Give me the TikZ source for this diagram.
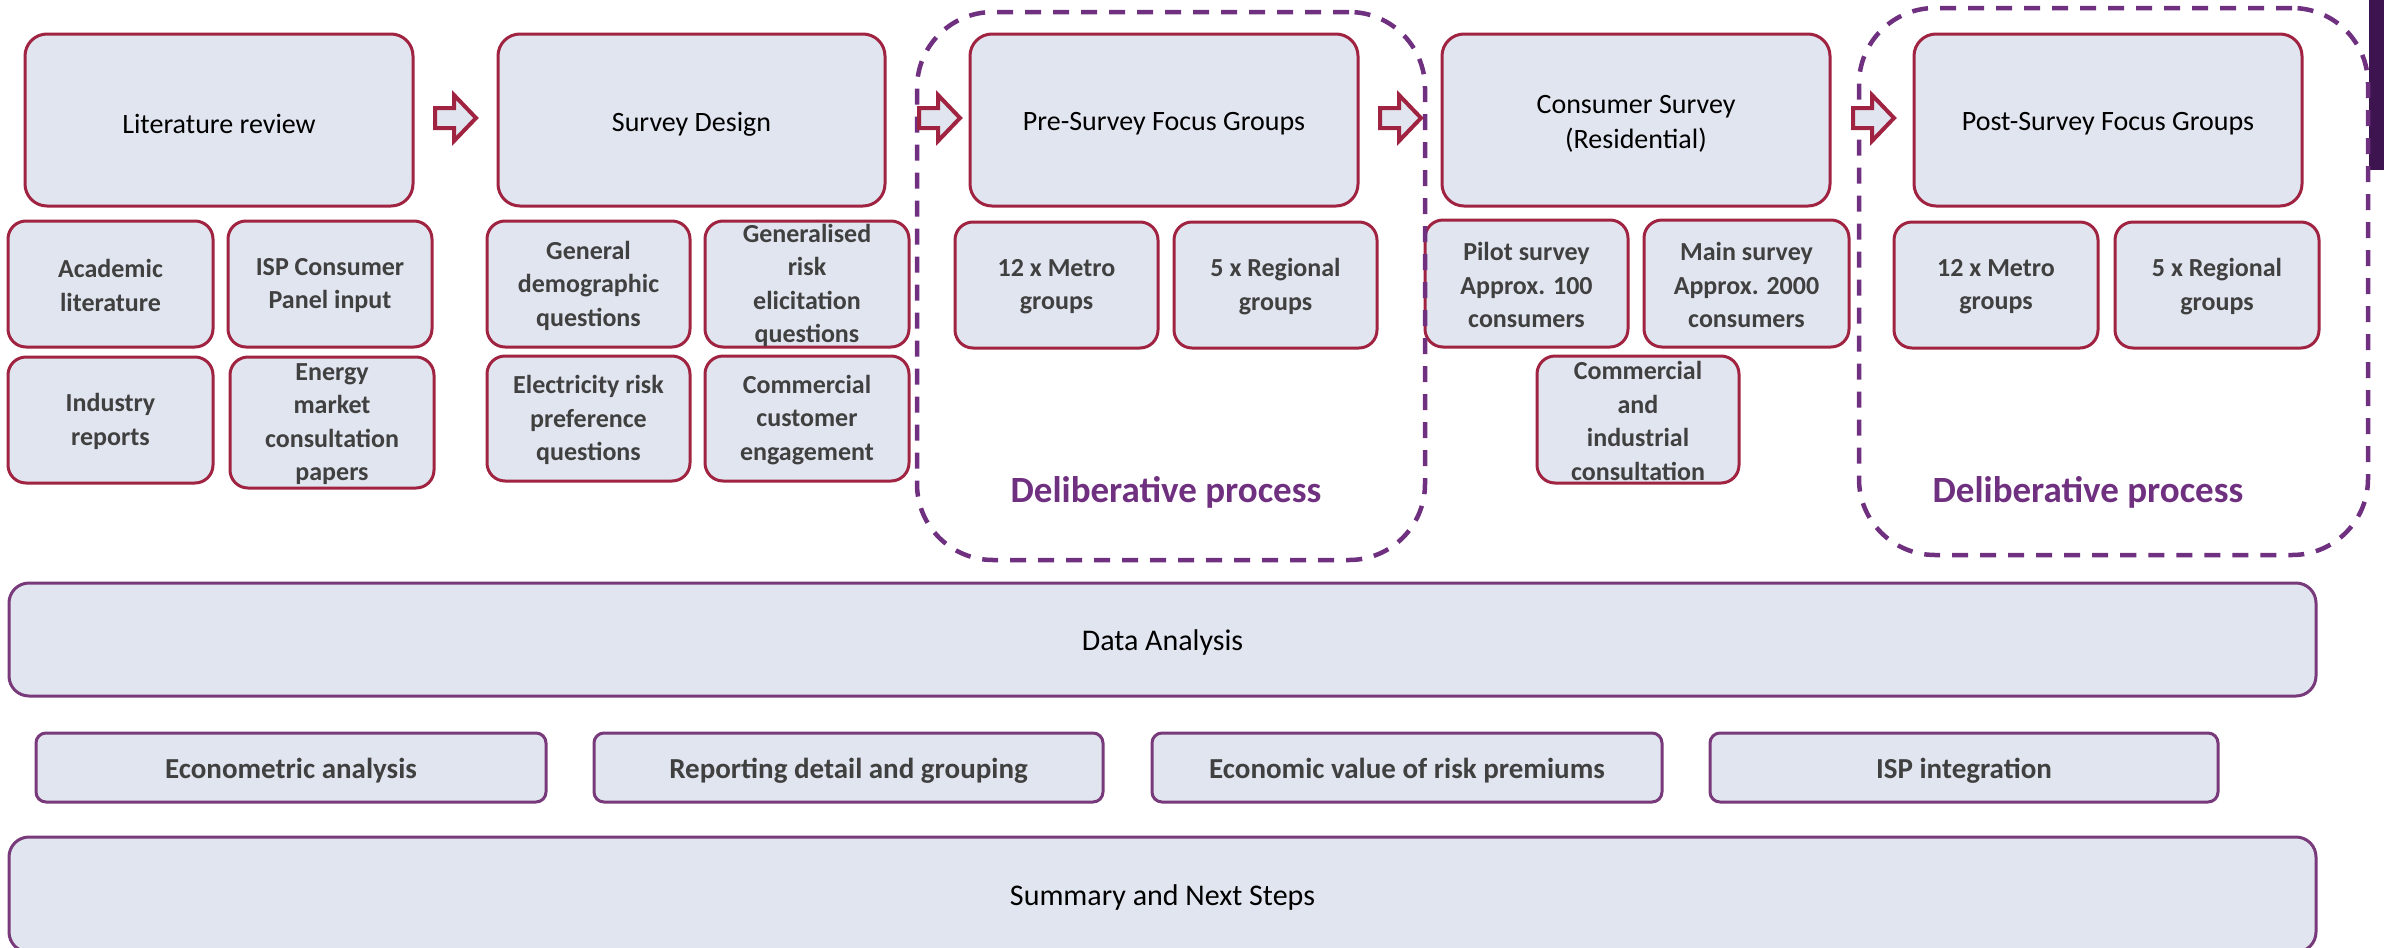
\documentclass[tikz,border=0pt]{standalone}
\usepackage{fontspec}
\setmainfont{Carlito}
\definecolor{boxfill}{RGB}{225,229,239}
\definecolor{crim}{RGB}{160,35,65}
\definecolor{purp}{RGB}{120,58,122}
\definecolor{dpurp}{RGB}{112,48,128}
\definecolor{txtgrey}{RGB}{64,64,64}
\definecolor{darkbar}{RGB}{62,20,80}
\tikzset{
 base/.style={fill=boxfill, inner sep=0pt, outer sep=0pt},
 topbox/.style={base, draw=crim, line width=1.5pt, rounded corners=11pt},
 subbox/.style={base, draw=crim, line width=1.5pt, rounded corners=9pt},
 widebox/.style={base, draw=purp, line width=1.5pt, rounded corners=10pt},
 thinbox/.style={base, draw=purp, line width=1.5pt, rounded corners=5pt},
 dashbox/.style={draw=dpurp, line width=2.25pt, dash pattern=on 8pt off 6pt, rounded corners=38pt},
 maintxt/.style={align=center, inner sep=0pt, yshift=-2pt, font=\fontsize{14}{17.5}\selectfont, text=black},
 bigtxt/.style={align=center, inner sep=0pt, yshift=-1.5pt, font=\fontsize{15}{18}\selectfont, text=black},
 subtxt/.style={align=center, inner sep=0pt, yshift=-0.75pt, font=\fontsize{13}{16.75}\selectfont\bfseries, text=txtgrey},
 rowtxt/.style={align=center, inner sep=0pt, yshift=-1.5pt, font=\fontsize{14.5}{17}\selectfont\bfseries, text=txtgrey},
 deltxt/.style={inner sep=0pt, yshift=-1pt, font=\fontsize{18.5}{22}\selectfont\bfseries, text=dpurp},
 blockarrow/.style={draw=crim, fill=boxfill, line width=2pt, line join=miter},
}
% style, name, x1, y1, x2, y2, text style, text
\newcommand\mybox[8]{%
 \node[#1, minimum width={(#5-#3)*0.5pt}, minimum height={(#6-#4)*0.5pt}] (#2) at ({(#3+#5)/2},{(#4+#6)/2}) {};
 \node[#7] (#2-t) at (#2.center) {#8};}
\newcommand\myarrow[2]{%
 \coordinate (#1) at (#2,118);
 \draw[blockarrow] (#1) ++(-20,-10) -- ++(19,0) -- ++(0,-13) -- ++(22,23) -- ++(-22,23) -- ++(0,-13) -- ++(-19,0) -- cycle;}
\begin{document}
\begin{tikzpicture}[x=0.5pt, y=-0.5pt]
\clip (0,0) rectangle (2384,948);
\fill[white] (0,0) rectangle (2384,948);
% dark bar at right edge
\fill[darkbar] (2369,0) rectangle (2384,170);
% top row
\mybox{topbox}{lit}{25}{34}{413}{206}{maintxt}{Literature review}
\mybox{topbox}{sd}{498}{34}{885}{206}{maintxt}{Survey Design}
\mybox{topbox}{pre}{970}{34}{1358}{206}{maintxt}{Pre-Survey Focus Groups}
\mybox{topbox}{cs}{1442}{34}{1830}{206}{maintxt}{Consumer Survey\\(Residential)}
\mybox{topbox}{post}{1914}{34}{2302}{206}{maintxt}{Post-Survey Focus Groups}
% literature sub-boxes
\mybox{subbox}{acad}{8}{221}{213}{347}{subtxt}{Academic\\literature}
\mybox{subbox}{ispc}{228}{221}{432}{347}{subtxt}{ISP Consumer\\Panel input}
\mybox{subbox}{ind}{8}{357}{213}{483}{subtxt}{Industry\\reports}
\mybox{subbox}{emc}{230}{357}{434}{488}{subtxt}{Energy\\market\\consultation\\papers}
% survey design sub-boxes
\mybox{subbox}{gdq}{487}{221}{690}{347}{subtxt}{General\\demographic\\questions}
\mybox{subbox}{greq}{705}{221}{909}{347}{subtxt}{Generalised\\risk\\elicitation\\questions}
\mybox{subbox}{erpq}{487}{356}{690}{481}{subtxt}{Electricity risk\\preference\\questions}
\mybox{subbox}{cce}{705}{356}{909}{481}{subtxt}{Commercial\\customer\\engagement}
% pre-survey sub-boxes
\mybox{subbox}{prem}{955}{222}{1158}{348}{subtxt}{12 x Metro\\groups}
\mybox{subbox}{prer}{1174}{222}{1377}{348}{subtxt}{5 x Regional\\groups}
% consumer survey sub-boxes
\mybox{subbox}{pil}{1425}{220}{1628}{347}{subtxt}{Pilot survey\\Approx. 100\\consumers}
\mybox{subbox}{mainsv}{1644}{220}{1849}{347}{subtxt}{Main survey\\Approx. 2000\\consumers}
\mybox{subbox}{cic}{1537}{356}{1739}{483}{subtxt}{Commercial\\and\\industrial\\consultation}
% post-survey sub-boxes
\mybox{subbox}{postm}{1894}{222}{2098}{348}{subtxt}{12 x Metro\\groups}
\mybox{subbox}{postr}{2115}{222}{2319}{348}{subtxt}{5 x Regional\\groups}
% deliberative process frames
\node[dashbox, inner sep=0pt, outer sep=0pt, minimum width={(1425-917)*0.5pt}, minimum height={(560-12)*0.5pt}] (dp1) at (1171,286) {};
\node[dashbox, inner sep=0pt, outer sep=0pt, minimum width={(2368-1859)*0.5pt}, minimum height={(555-8)*0.5pt}] (dp2) at (2113.5,281.5) {};
\node[deltxt] (dp1-t) at (1166,490) {Deliberative process};
\node[deltxt] (dp2-t) at (2088,490) {Deliberative process};
% flow arrows
\myarrow{a1}{455}
\myarrow{a2}{939}
\myarrow{a3}{1400}
\myarrow{a4}{1873}
% analysis
\mybox{widebox}{da}{9}{583}{2316}{696}{bigtxt}{Data Analysis}
\mybox{thinbox}{eco}{36}{733}{546}{802}{rowtxt}{Econometric analysis}
\mybox{thinbox}{rep}{594}{733}{1103}{802}{rowtxt}{Reporting detail and grouping}
\mybox{thinbox}{evr}{1152}{733}{1662}{802}{rowtxt}{Economic value of risk premiums}
\mybox{thinbox}{ispi}{1710}{733}{2218}{802}{rowtxt}{ISP integration}
\mybox{widebox}{sum}{9}{837}{2316}{952}{bigtxt}{Summary and Next Steps}
\end{tikzpicture}
\end{document}
